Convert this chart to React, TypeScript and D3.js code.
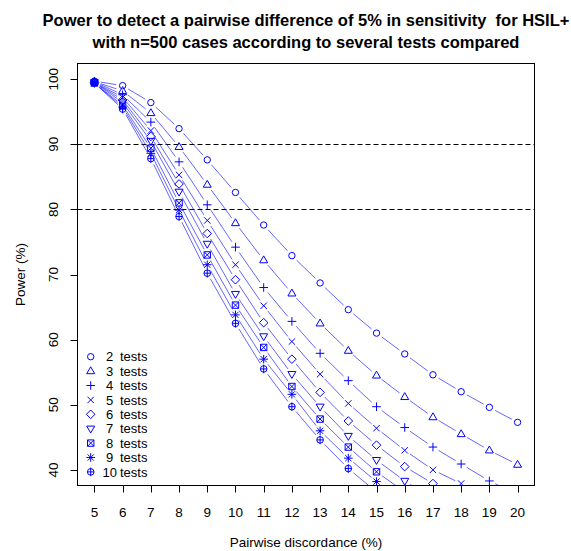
import React from "react";
import * as d3 from "d3";

const discordance = [5, 6, 7, 8, 9, 10, 11, 12, 13, 14, 15, 16, 17, 18, 19, 20];
const testLabels = ["2", "3", "4", "5", "6", "7", "8", "9", "10"];
const s2 = [99.7, 99.0, 96.4, 92.4, 87.6, 82.6, 77.6, 72.9, 68.7, 64.6, 61.0, 57.8, 54.6, 52.0, 49.6, 47.3];
const s3 = [99.6, 98.2, 94.8, 89.6, 83.8, 77.9, 72.2, 67.1, 62.5, 58.3, 54.5, 51.2, 48.1, 45.5, 43.0, 40.8];
const s4 = [99.6, 97.6, 93.4, 87.3, 80.7, 74.2, 68.0, 62.8, 57.9, 53.7, 49.7, 46.5, 43.5, 40.9, 38.3, 36.2];
const s5 = [99.5, 97.2, 92.1, 85.3, 78.3, 71.5, 65.2, 59.7, 54.7, 50.2, 46.4, 43.0, 40.0, 37.9, 35.6, 33.5];
const s6 = [99.5, 96.8, 91.2, 83.9, 76.3, 69.2, 62.6, 57.0, 51.9, 47.5, 43.8, 40.5, 37.9, 35.4, 33.2, 31.3];
const s7 = [99.5, 96.4, 90.5, 82.7, 74.7, 67.0, 60.5, 54.7, 49.7, 45.2, 41.5, 38.3, 35.5, 33.0, 30.9, 29.0];
const s8 = [99.4, 96.0, 89.4, 81.0, 73.0, 65.3, 58.8, 52.8, 47.8, 43.5, 39.7, 36.6, 33.8, 31.4, 29.3, 27.4];
const s9 = [99.4, 95.7, 88.6, 79.9, 71.5, 63.8, 57.0, 51.6, 46.0, 41.8, 38.2, 35.0, 32.3, 29.9, 27.8, 26.0];
const s10 = [99.4, 95.4, 87.8, 78.9, 70.2, 62.5, 55.5, 49.7, 44.6, 40.2, 36.6, 33.5, 30.8, 28.5, 26.4, 24.7];
const seriesValues = [s2, s3, s4, s5, s6, s7, s8, s9, s10];
const symbols = ["circle", "triUp", "plus", "cross", "diamond", "triDown", "squareX", "star", "circlePlus"];
const xTicks = [5, 6, 7, 8, 9, 10, 11, 12, 13, 14, 15, 16, 17, 18, 19, 20];
const yTicks = [40, 50, 60, 70, 80, 90, 100];
const refLines = [90, 80];

const W = 571;
const H = 551;
const L = 77.5, R = 534.5, T = 63.5, B = 485.5;
const BLUE = "#0000ff";
const FONT = "'Liberation Sans', Arial, Helvetica, sans-serif";

function symbolPath(kind: string): string {
  switch (kind) {
    case "circle": {
      const p = d3.path(); p.arc(0, 0, 3.2, 0, Math.PI * 2); return p.toString();
    }
    case "triUp":
      return "M0,-4.3L4,2.6L-4,2.6Z";
    case "triDown":
      return "M0,4.3L4,-2.6L-4,-2.6Z";
    case "plus":
      return "M-4.3,0L4.3,0M0,-4.3L0,4.3";
    case "cross":
      return "M-3.2,-3.2L3.2,3.2M-3.2,3.2L3.2,-3.2";
    case "diamond":
      return "M0,-4.3L4.3,0L0,4.3L-4.3,0Z";
    case "squareX":
      return "M-3.2,-3.2L3.2,-3.2L3.2,3.2L-3.2,3.2ZM-3.2,-3.2L3.2,3.2M-3.2,3.2L3.2,-3.2";
    case "star":
      return "M-4.3,0L4.3,0M0,-4.3L0,4.3M-3.1,-3.1L3.1,3.1M-3.1,3.1L3.1,-3.1";
    case "circlePlus": {
      const p = d3.path(); p.arc(0, 0, 3.3, 0, Math.PI * 2);
      return p.toString() + "M-3.3,0L3.3,0M0,-4.3L0,4.3";
    }
  }
  return "";
}

export default function App() {
  const x = d3.scaleLinear().domain([4.4, 20.6]).range([L, R]);
  const y = d3.scaleLinear().domain([37.6, 102.4]).range([B, T]);
  const gap = 6.5;

  const segs: JSX.Element[] = [];
  const marks: JSX.Element[] = [];
  seriesValues.forEach((vals, si) => {
    const pts = vals.map((v, i) => [x(discordance[i]), y(v)] as [number, number]);
    for (let i = 0; i < pts.length - 1; i++) {
      const [x1, y1] = pts[i];
      const [x2, y2] = pts[i + 1];
      const dx = x2 - x1, dy = y2 - y1;
      const len = Math.hypot(dx, dy);
      if (len <= 2 * gap) continue;
      const ux = dx / len, uy = dy / len;
      segs.push(
        <line key={`s${si}-${i}`} x1={x1 + ux * gap} y1={y1 + uy * gap} x2={x2 - ux * gap} y2={y2 - uy * gap}
          stroke={BLUE} strokeWidth={1} strokeOpacity={0.6} />
      );
    }
    pts.forEach(([px, py], i) => {
      marks.push(
        <path key={`m${si}-${i}`} d={symbolPath(symbols[si])} transform={`translate(${px},${py})`}
          fill="none" stroke={BLUE} strokeWidth={1} />
      );
    });
  });

  const cx = (L + R) / 2;
  const legX = 90.7, legY0 = 356.7, legDy = 14.4;

  return (
    <svg width={W} height={H} style={{ position: "absolute", left: 0, top: 0, background: "#fff" }}
      fontFamily={FONT}>
      <defs>
        <clipPath id="plotclip"><rect x={L} y={T} width={R - L} height={B - T} /></clipPath>
      </defs>
      <rect x={0} y={0} width={W} height={H} fill="#fff" />
      <text x={cx} y={26} textAnchor="middle" fontWeight="bold" fontSize={16.5} xmlSpace="preserve"
        style={{ whiteSpace: "pre" }}>Power to detect a pairwise difference of 5% in sensitivity  for HSIL+</text>
      <text x={cx} y={47.5} textAnchor="middle" fontWeight="bold" fontSize={16.5}>with n=500 cases according to several tests compared</text>

      <g clipPath="url(#plotclip)">
        {refLines.map((v) => (
          <line key={`r${v}`} x1={L} x2={R} y1={Math.round(y(v)) + 0.5} y2={Math.round(y(v)) + 0.5}
            stroke="#000" strokeWidth={1} strokeDasharray="5,3" />
        ))}
        {segs}
        {marks}
      </g>
      <rect x={L} y={T} width={R - L} height={B - T} fill="none" stroke="#000" strokeWidth={1} />

      {xTicks.map((t) => (
        <g key={`xt${t}`}>
          <line x1={Math.round(x(t)) + 0.5} x2={Math.round(x(t)) + 0.5} y1={B} y2={B + 7} stroke="#000" />
          <text x={x(t)} y={516.5} textAnchor="middle" fontSize={13.5}>{t}</text>
        </g>
      ))}
      {yTicks.map((t) => (
        <g key={`yt${t}`}>
          <line x1={L - 7} x2={L} y1={Math.round(y(t)) + 0.5} y2={Math.round(y(t)) + 0.5} stroke="#000" />
          <text transform={`translate(57.5,${y(t)}) rotate(-90)`} textAnchor="middle" fontSize={13.5}>{t}</text>
        </g>
      ))}
      <text x={cx} y={547} textAnchor="middle" fontSize={13.5}>Pairwise discordance (%)</text>
      <text transform={`translate(25,${(T + B) / 2}) rotate(-90)`} textAnchor="middle" fontSize={13.5}>Power (%)</text>

      {testLabels.map((lab, i) => (
        <g key={`lg${i}`}>
          <path d={symbolPath(symbols[i])} transform={`translate(${legX},${legY0 + i * legDy})`}
            fill="none" stroke={BLUE} strokeWidth={1} />
          <text x={lab.length === 1 ? 106 : 102.5} y={legY0 + i * legDy + 4.6} fontSize={13}>{lab}</text>
          <text x={120} y={legY0 + i * legDy + 4.6} fontSize={13}>tests</text>
        </g>
      ))}
    </svg>
  );
}
